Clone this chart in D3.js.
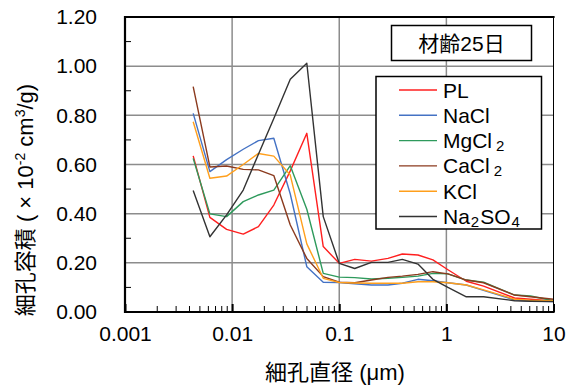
<!DOCTYPE html>
<html>
<head>
<meta charset="utf-8">
<script src="https://cdn.jsdelivr.net/npm/d3@7/dist/d3.min.js"></script>
<style>
  body { margin: 0; background: #fff; }
  svg { display: block; }
  text { font-family: "Liberation Sans", Arial, "Noto Sans CJK JP", sans-serif; fill: #000; }
</style>
</head>
<body>
<svg id="chart" width="568" height="391"></svg>
<script>
// Pore diameter (µm) of each measurement point
const diameters = [0.00433, 0.0062, 0.00888, 0.0127, 0.0176, 0.0245, 0.0349, 0.0498, 0.0709, 0.1,
                   0.1395, 0.1996, 0.285, 0.388, 0.543, 0.749, 1.034, 1.535, 2.225, 4.33, 6.1, 10];

// Pore volume (×10^-2 cm3/g) per series
const PL     = [0.635, 0.385, 0.336, 0.317, 0.347, 0.435, 0.574, 0.727, 0.266, 0.198,
                0.214, 0.207, 0.218, 0.236, 0.232, 0.212, 0.172, 0.125, 0.105, 0.057, 0.052, 0.045];
const NaCl   = [0.808, 0.571, 0.620, 0.662, 0.697, 0.707, 0.480, 0.184, 0.121, 0.120,
                0.115, 0.110, 0.110, 0.117, 0.133, 0.127, 0.119, 0.110, 0.088, 0.049, 0.045, 0.042];
const MgCl2  = [0.625, 0.399, 0.388, 0.449, 0.476, 0.496, 0.595, 0.418, 0.157, 0.142,
                0.140, 0.134, 0.137, 0.141, 0.146, 0.157, 0.155, 0.130, 0.121, 0.069, 0.065, 0.046];
const CaCl2  = [0.917, 0.590, 0.594, 0.580, 0.578, 0.555, 0.354, 0.218, 0.144, 0.121,
                0.119, 0.130, 0.141, 0.146, 0.153, 0.164, 0.155, 0.130, 0.119, 0.069, 0.062, 0.052];
const KCl    = [0.774, 0.544, 0.553, 0.600, 0.645, 0.634, 0.557, 0.277, 0.137, 0.120,
                0.118, 0.117, 0.117, 0.117, 0.123, 0.123, 0.119, 0.110, 0.090, 0.052, 0.048, 0.045];
const Na2SO4 = [0.494, 0.306, 0.395, 0.496, 0.642, 0.787, 0.947, 1.012, 0.388, 0.198,
                0.177, 0.202, 0.202, 0.214, 0.195, 0.133, 0.100, 0.062, 0.062, 0.046, 0.044, 0.042];

const seriesNames  = [["PL", ""], ["NaCl", ""], ["MgCl", "2"], ["CaCl", "2"], ["KCl", ""], ["Na", "2", "SO", "4"]];
const seriesValues = [PL, NaCl, MgCl2, CaCl2, KCl, Na2SO4];
const seriesColors = ["#ff1f1f", "#4472c4", "#2e9a5c", "#8b3a1e", "#ff9f1c", "#333333"];

const yTickValues = [0, 0.2, 0.4, 0.6, 0.8, 1.0, 1.2];
const yMinorValues = [0.1, 0.3, 0.5, 0.7, 0.9, 1.1];
const xTickValues = [0.001, 0.01, 0.1, 1, 10];
const xTickLabels = ["0.001", "0.01", "0.1", "1", "10"];
const titleText = "材齢25日";

const svg = d3.select("#chart");
const plotLeft = 125, plotRight = 553.5, plotTop = 17, plotBottom = 312;

const x = d3.scaleLog().domain([0.001, 10]).range([plotLeft, plotRight]);
const y = d3.scaleLinear().domain([0, 1.2]).range([plotBottom, plotTop]);

// Grid lines
const grid = svg.append("g").attr("stroke", "#8c8c8c").attr("stroke-width", 1.5);
grid.selectAll("line.h").data(yTickValues.filter(v => v > 0 && v < 1.2)).join("line")
  .attr("class", "h")
  .attr("x1", plotLeft).attr("x2", plotRight).attr("y1", d => y(d)).attr("y2", d => y(d));
grid.selectAll("line.v").data(xTickValues.filter(v => v > 0.001 && v < 10)).join("line")
  .attr("class", "v")
  .attr("x1", d => x(d)).attr("x2", d => x(d)).attr("y1", plotTop).attr("y2", plotBottom);

// Series lines
const line = d3.line().x((d, i) => x(diameters[i])).y(d => y(d));
svg.append("g").selectAll("path").data(seriesValues).join("path")
  .attr("d", d => line(d))
  .attr("fill", "none")
  .attr("stroke", (d, i) => seriesColors[i])
  .attr("stroke-width", 1.4)
  .attr("stroke-linejoin", "round");

// X axis: decade ticks + minor ticks pointing inward
const minorX = [];
for (let e = -3; e < 1; e++) for (let k = 2; k <= 9; k++) minorX.push(k * Math.pow(10, e));
const xAxis = d3.axisBottom(x).tickValues(xTickValues).tickFormat((d, i) => xTickLabels[i])
  .tickSizeInner(-8).tickSizeOuter(0).tickPadding(14);
const gx = svg.append("g").attr("transform", `translate(0,${plotBottom})`).call(xAxis);
gx.select(".domain").remove();
gx.selectAll(".tick line").attr("stroke", "#000").attr("stroke-width", 2);
gx.selectAll(".tick text").attr("font-size", 21).attr("font-family", "Liberation Sans, Arial, sans-serif").attr("fill", "#000");
gx.append("g").selectAll("line").data(minorX).join("line")
  .attr("x1", d => x(d)).attr("x2", d => x(d)).attr("y1", 0).attr("y2", -6)
  .attr("stroke", "#000").attr("stroke-width", 1);

// Y axis: labels + minor ticks pointing inward
const yAxis = d3.axisLeft(y).tickValues(yTickValues).tickFormat(d3.format(".2f"))
  .tickSize(0).tickSizeOuter(0).tickPadding(28);
const gy = svg.append("g").attr("transform", `translate(${plotLeft},0)`).call(yAxis);
gy.select(".domain").remove();
gy.selectAll(".tick text").attr("font-size", 21).attr("font-family", "Liberation Sans, Arial, sans-serif").attr("fill", "#000");
gy.append("g").selectAll("line").data(yMinorValues).join("line")
  .attr("x1", 0).attr("x2", 6).attr("y1", d => y(d)).attr("y2", d => y(d))
  .attr("stroke", "#000").attr("stroke-width", 1);

// Plot frame: heavy left, bottom and top edges, thin right edge
const frame = svg.append("g").attr("stroke", "#000").attr("fill", "none");
frame.append("line").attr("x1", plotRight).attr("x2", plotRight).attr("y1", plotTop).attr("y2", plotBottom)
  .attr("stroke-width", 1);
frame.append("path")
  .attr("d", `M${plotRight},${plotTop}H${plotLeft}V${plotBottom}H${plotRight}`)
  .attr("stroke-width", 2.2).attr("stroke-linecap", "square");

// Axis titles
svg.append("text").attr("x", 335).attr("y", 380).attr("text-anchor", "middle")
  .attr("font-size", 22).text("細孔直径 (μm)");

const yt = svg.append("text").attr("transform", "translate(33,200) rotate(-90)")
  .attr("text-anchor", "middle").attr("font-size", 22);
yt.append("tspan").text("細孔容積 ( × 10");
yt.append("tspan").attr("dy", -8).attr("font-size", 14).text("-2");
yt.append("tspan").attr("dy", 8).text(" cm");
yt.append("tspan").attr("dy", -8).attr("font-size", 14).text("3");
yt.append("tspan").attr("dy", 8).text("/g)");

// Title box
svg.append("rect").attr("x", 391.5).attr("y", 25.5).attr("width", 140).attr("height", 35)
  .attr("fill", "#fff").attr("stroke", "#000").attr("stroke-width", 1.5);
svg.append("text").attr("x", 461.5).attr("y", 51).attr("text-anchor", "middle")
  .attr("font-size", 21).text(titleText);

// Legend
const lg = svg.append("g");
lg.append("rect").attr("x", 376).attr("y", 76.5).attr("width", 165.5).attr("height", 152.5)
  .attr("fill", "#fff").attr("stroke", "#000").attr("stroke-width", 1.5);
seriesNames.forEach((parts, i) => {
  const cy = 90 + i * 25.3;
  lg.append("line").attr("x1", 399).attr("x2", 437).attr("y1", cy).attr("y2", cy)
    .attr("stroke", seriesColors[i]).attr("stroke-width", 1.4);
  const t = lg.append("text").attr("x", 443).attr("y", cy + 7.5).attr("font-size", 21);
  parts.forEach((p, j) => {
    if (!p) return;
    const sub = j % 2 === 1;
    const ts = t.append("tspan").text(p);
    if (sub) ts.attr("font-size", 15).attr("dy", 3).attr("dx", j === 1 && parts.length === 2 ? 4 : 1);
    else if (j > 0) ts.attr("dy", -3).attr("dx", 1);
  });
});
</script>
</body>
</html>
